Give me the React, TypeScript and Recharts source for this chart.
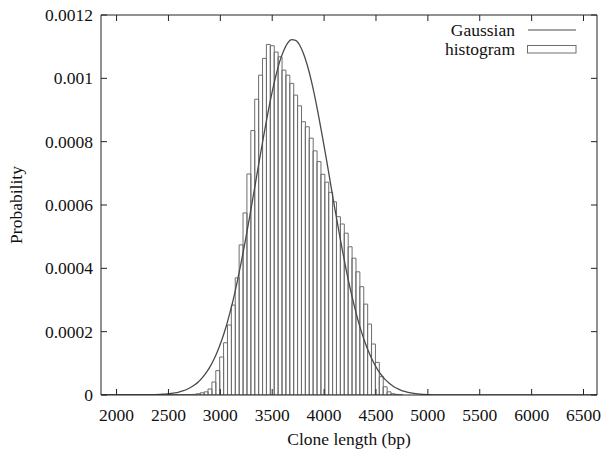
import React from 'react';
import { ComposedChart, Bar, Line, XAxis, YAxis, Legend } from 'recharts';

// Histogram bin centres (bp) and probabilities
const histX = [
  1887.5, 1925, 1962.5, 2000, 2037.5, 2075, 2112.5, 2150, 2187.5, 2225,
  2262.5, 2300, 2337.5, 2375, 2412.5, 2450, 2487.5, 2525, 2562.5, 2600,
  2637.5, 2675, 2712.5, 2750, 2787.5, 2825, 2862.5, 2900, 2937.5, 2975,
  3012.5, 3050, 3087.5, 3125, 3162.5, 3200, 3237.5, 3275, 3312.5, 3350,
  3387.5, 3425, 3462.5, 3500, 3537.5, 3575, 3612.5, 3650, 3687.5, 3725,
  3762.5, 3800, 3837.5, 3875, 3912.5, 3950, 3987.5, 4025, 4062.5, 4100,
  4137.5, 4175, 4212.5, 4250, 4287.5, 4325, 4362.5, 4400, 4437.5, 4475,
  4512.5, 4550, 4587.5, 4625, 4662.5, 4700, 4737.5,
];
const histY = [
  0.000001, 0.000001, 0.000001, 0.000001, 0.000001, 0.000001, 0.000001, 0.000001, 0.000001, 0.000001,
  0.000001, 0.000001, 0.000001, 0.000001, 0.000001, 0.000001, 0.000001, 0.000001, 0.000001, 0.000001,
  0.000001, 0.000001, 0.0000015, 0.000002, 0.000004, 0.000007, 0.00001, 0.000019, 0.000041, 0.000077,
  0.00012, 0.000165, 0.000221, 0.000284, 0.00037, 0.000474, 0.000575, 0.000698, 0.000835, 0.000934,
  0.00101, 0.001063, 0.001107, 0.001103, 0.001083, 0.001068, 0.001026, 0.00101, 0.000984, 0.000947,
  0.000913, 0.000863, 0.000847, 0.000811, 0.000771, 0.000737, 0.000697, 0.000672, 0.00064, 0.00061,
  0.000563, 0.00054, 0.000511, 0.000468, 0.000432, 0.000389, 0.000342, 0.000287, 0.000224, 0.000161,
  0.000103, 0.000058, 0.000026, 0.00001, 0.000004, 0.000002, 0.000001,
];

// Gaussian curve, read at points along the picture
const gaussX = [
  1850, 2000, 2150, 2225, 2300, 2375, 2450, 2487.5, 2525, 2562.5,
  2600, 2637.5, 2675, 2712.5, 2750, 2787.5, 2825, 2862.5, 2900, 2937.5,
  2975, 3012.5, 3050, 3087.5, 3125, 3162.5, 3200, 3237.5, 3275, 3312.5,
  3350, 3387.5, 3425, 3462.5, 3500, 3537.5, 3575, 3612.5, 3650, 3687.5,
  3725, 3762.5, 3800, 3837.5, 3875, 3912.5, 3950, 3987.5, 4025, 4062.5,
  4100, 4137.5, 4175, 4212.5, 4250, 4287.5, 4325, 4362.5, 4400, 4437.5,
  4475, 4512.5, 4550, 4587.5, 4625, 4662.5, 4700, 4737.5, 4775, 4850,
  4925, 5000, 5150, 5450, 6000, 6630,
];
const gaussY = [
  0, 0, 0, 0.0000002, 0.0000005, 0.0000011, 0.0000023, 0.0000033, 0.0000047, 0.0000066,
  0.0000092, 0.0000127, 0.0000174, 0.0000235, 0.0000313, 0.0000413, 0.0000539, 0.0000695, 0.0000887, 0.000112,
  0.00014, 0.000172, 0.00021, 0.000254, 0.000302, 0.000357, 0.000417, 0.000481, 0.000549, 0.000619,
  0.000691, 0.000762, 0.000832, 0.000898, 0.000958, 0.001011, 0.001056, 0.001089, 0.001112, 0.001122,
  0.00112, 0.001106, 0.001079, 0.001042, 0.000995, 0.000939, 0.000876, 0.000809, 0.000739, 0.000667,
  0.000595, 0.000526, 0.000459, 0.000396, 0.000338, 0.000286, 0.000238, 0.000197, 0.000161, 0.00013,
  0.000104, 0.0000819, 0.0000639, 0.0000493, 0.0000377, 0.0000284, 0.0000212, 0.0000157, 0.0000115, 0.0000059,
  0.0000029, 0.0000014, 0.0000003, 0, 0, 0,
];

const xTicks = [2000, 2500, 3000, 3500, 4000, 4500, 5000, 5500, 6000, 6500];
const yTicks = [0, 0.0002, 0.0004, 0.0006, 0.0008, 0.001, 0.0012];
const xDomain = [1850, 6630];
const yDomain = [0, 0.0012];

type Row = { x: number; hist: number | null; gauss: number | null };
const rowMap = new Map<number, Row>();
histX.forEach((x, i) => {
  const r = rowMap.get(x) || { x, hist: null, gauss: null };
  r.hist = histY[i];
  rowMap.set(x, r);
});
gaussX.forEach((x, i) => {
  const r = rowMap.get(x) || { x, hist: null, gauss: null };
  r.gauss = gaussY[i];
  rowMap.set(x, r);
});
const data = Array.from(rowMap.values()).sort((a, b) => a.x - b.x);

const FONT = "'Liberation Serif', 'Times New Roman', serif";
const FS = 17.5;
const AXIS = '#222';
const TEXT = '#111';
const TICK = 6;
const BAR = '#6e6e6e';
const CURVE = '#4a4a4a';

const BottomTick = (props: any) => {
  const { x, y, payload } = props;
  return (
    <g>
      <line x1={x} y1={y} x2={x} y2={y - TICK} stroke={AXIS} strokeWidth={1} />
      <text x={x} y={y + 26} textAnchor="middle" fontFamily={FONT} fontSize={FS} fill={TEXT}>
        {payload.value}
      </text>
    </g>
  );
};
const TopTick = (props: any) => {
  const { x, y } = props;
  return <line x1={x} y1={y} x2={x} y2={y + TICK} stroke={AXIS} strokeWidth={1} />;
};
const LeftTick = (props: any) => {
  const { x, y, payload } = props;
  return (
    <g>
      <line x1={x} y1={y} x2={x + TICK} y2={y} stroke={AXIS} strokeWidth={1} />
      <text x={x - 8} y={y + 6} textAnchor="end" fontFamily={FONT} fontSize={FS} fill={TEXT}>
        {String(payload.value)}
      </text>
    </g>
  );
};
const RightTick = (props: any) => {
  const { x, y } = props;
  return <line x1={x} y1={y} x2={x - TICK} y2={y} stroke={AXIS} strokeWidth={1} />;
};

const XLabel = (props: any) => {
  const vb = props.viewBox || {};
  const cx = vb.x + vb.width / 2;
  return (
    <text x={cx} y={vb.y + 50} textAnchor="middle" fontFamily={FONT} fontSize={FS} fill={TEXT}>
      Clone length (bp)
    </text>
  );
};
const YLabel = (props: any) => {
  const vb = props.viewBox || {};
  const cx = vb.x + 16;
  const cy = vb.y + vb.height / 2;
  return (
    <text
      x={cx}
      y={cy}
      transform={`rotate(-90 ${cx} ${cy})`}
      textAnchor="middle"
      dominantBaseline="central"
      fontFamily={FONT}
      fontSize={FS}
      fill={TEXT}
    >
      Probability
    </text>
  );
};

const LegendContent = (props: any) => {
  const payload = (props.payload || []) as any[];
  const order = ['Gaussian', 'histogram'];
  const items = order
    .map((n) => payload.find((p) => p.value === n))
    .filter(Boolean) as any[];
  return (
    <svg width={180} height={44} style={{ display: 'block' }}>
      {items.map((it, i) => {
        const cy = 12 + i * 19;
        return (
          <g key={it.value}>
            <text x={115} y={cy + 5.5} textAnchor="end" fontFamily={FONT} fontSize={FS} fill={TEXT}>
              {it.value}
            </text>
            {it.value === 'Gaussian' ? (
              <line x1={128} y1={cy} x2={176} y2={cy} stroke={CURVE} strokeWidth={1.2} />
            ) : (
              <rect x={127.5} y={cy - 3.5} width={48.5} height={7.5} fill="none" stroke={BAR} strokeWidth={1} />
            )}
          </g>
        );
      })}
    </svg>
  );
};

export default function App() {
  return (
    <div style={{ position: 'absolute', left: 0, top: 0, width: 602, height: 454, background: '#fff' }}>
      <ComposedChart
        width={602}
        height={454}
        data={data}
        margin={{ top: 14, right: 4, bottom: 0, left: 0 }}
        barCategoryGap={0}
        barGap={0}
        style={{ fontFamily: FONT }}
      >
        <XAxis
          dataKey="x"
          type="number"
          domain={xDomain}
          allowDataOverflow
          ticks={xTicks}
          interval={0}
          tickLine={false}
          tickSize={0}
          tickMargin={0}
          tick={<BottomTick />}
          axisLine={{ stroke: AXIS, strokeWidth: 1 }}
          height={59}
          label={<XLabel />}
        />
        <XAxis
          xAxisId="top"
          dataKey="x"
          orientation="top"
          type="number"
          domain={xDomain}
          allowDataOverflow
          ticks={xTicks}
          interval={0}
          tickLine={false}
          tickSize={0}
          tickMargin={0}
          tick={<TopTick />}
          axisLine={{ stroke: AXIS, strokeWidth: 1 }}
          height={1}
        />
        <YAxis
          type="number"
          domain={yDomain}
          allowDataOverflow
          ticks={yTicks}
          interval={0}
          tickLine={false}
          tickSize={0}
          tickMargin={0}
          tick={<LeftTick />}
          axisLine={{ stroke: AXIS, strokeWidth: 1 }}
          width={101}
          label={<YLabel />}
        />
        <YAxis
          yAxisId="right"
          orientation="right"
          type="number"
          domain={yDomain}
          allowDataOverflow
          ticks={yTicks}
          interval={0}
          tickLine={false}
          tickSize={0}
          tickMargin={0}
          tick={<RightTick />}
          axisLine={{ stroke: AXIS, strokeWidth: 1 }}
          width={1}
        />
        <Legend
          layout="horizontal"
          verticalAlign="middle"
          align="center"
          content={<LegendContent />}
          wrapperStyle={{ position: 'absolute', left: 400, top: 18, width: 180, height: 44 }}
        />
        <Bar
          dataKey="hist"
          name="histogram"
          fill="none"
          stroke={BAR}
          strokeWidth={1}
          isAnimationActive={false}
        />
        <Line
          dataKey="gauss"
          name="Gaussian"
          type="monotone"
          stroke={CURVE}
          strokeWidth={1.3}
          dot={false}
          activeDot={false}
          connectNulls
          isAnimationActive={false}
        />
        <Line
          dataKey="gauss"
          name="mirror"
          xAxisId="top"
          yAxisId="right"
          stroke="none"
          dot={false}
          activeDot={false}
          legendType="none"
          isAnimationActive={false}
        />
      </ComposedChart>
    </div>
  );
}
